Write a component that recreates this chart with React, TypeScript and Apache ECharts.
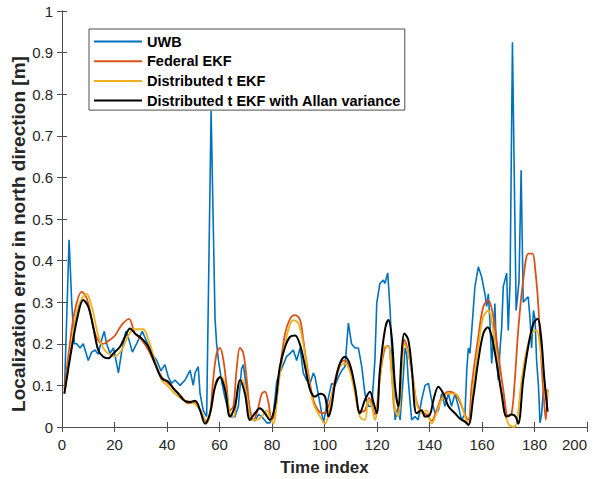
import React, { useEffect, useRef } from "react";
import * as echarts from "echarts";

const seriesNames = ["UWB", "Federal EKF", "Distributed t EKF", "Distributed t EKF with Allan variance"];
const yTitle = "Localization error in north direction [m]";
const xTitle = "Time index";

const uwbX = [1, 2.7, 3.7, 4.7, 5.6, 6.9, 8.1, 10, 11.3, 12.6, 13.8, 15.1, 16.1, 17, 18.3, 19.6, 21.5, 22.7, 24.3, 25.5, 26.8, 28.4, 30.6, 32.3, 34.2, 36.1, 37.7, 39.2, 40.5, 41.8, 43, 45, 46.9, 48.8, 50,
  50.7, 51.9, 52.6, 53.8, 55.1, 56.8, 58.3, 58.9, 59.6, 60.8, 62.1, 64, 65.9, 67.2, 68.4, 69.1, 69.7, 71, 72.2, 73.5, 74.8, 76.1, 78, 79.2, 80.5, 81.8, 83, 84.3, 85.6, 86.9, 88.1, 89.4, 90.7, 91.9, 93.2, 94.5, 95.75,
  96.4, 97.6, 99.6, 100.8, 102.7, 104, 105.3, 106.5, 107.8, 109.1, 110.3, 111.6, 112.9, 114.2, 115.4, 116.7, 118, 119.2, 119.9, 121.1, 122.4, 123, 124.1, 125, 126.2, 126.9, 128.1, 128.8, 130, 130.7, 131.3, 131.9, 133.2, 134.5, 135.7, 137, 138.3, 139.6, 140.8, 142.1, 143.4, 144.6, 145.9, 147.2, 148.4, 149.7,
  151, 152.2, 153.5, 154.2, 154.8, 155.4, 156.1, 157.3, 158.6, 159.9, 161.1, 161.8, 162.4, 163, 163.7, 164.3, 164.9, 165.6, 166.2, 166.9, 167.5, 168.1, 169.4, 170, 170.7, 171.6, 173, 174.1, 174.9, 175.7, 176.4, 177.6, 178.3, 178.9, 179.6, 180.2, 180.8, 181.5, 182.1, 182.7, 183.4, 184, 185];
const uwbY = [0.1, 0.45, 0.3, 0.2, 0.2, 0.19, 0.2, 0.16, 0.18, 0.185, 0.175, 0.21, 0.23, 0.2, 0.177, 0.19, 0.13, 0.18, 0.23, 0.21, 0.18, 0.2, 0.23, 0.205, 0.177, 0.16, 0.135, 0.15, 0.12, 0.105, 0.113, 0.1, 0.113, 0.136, 0.1,
  0.13, 0.145, 0.08, 0.04, 0.025, 0.76, 0.26, 0.2, 0.16, 0.11, 0.07, 0.025, 0.025, 0.05, 0.14, 0.15, 0.12, 0.065, 0.02, 0.015, 0.03, 0.025, 0.01, 0.01, 0.03, 0.11, 0.13, 0.15, 0.17, 0.177, 0.185, 0.16, 0.19, 0.13, 0.112, 0.105, 0.13,
  0.12, 0.08, 0.01, 0.05, 0.105, 0.1, 0.12, 0.135, 0.145, 0.25, 0.2, 0.19, 0.19, 0.145, 0.08, 0.05, 0.05, 0.16, 0.297, 0.345, 0.353, 0.345, 0.37, 0.28, 0.1, 0.017, 0.05, 0.017, 0.12, 0.19, 0.177, 0.113, 0.017, 0.025, 0.017, 0.065, 0.1, 0.105, 0.065, 0.033, 0.04, 0.08, 0.05, 0.08, 0.05, 0.08,
  0.05, 0.017, 0.03, 0.137, 0.19, 0.177, 0.233, 0.337, 0.385, 0.36, 0.32, 0.29, 0.32, 0.257, 0.153, 0.21, 0.297, 0.16, 0.113, 0.19, 0.24, 0.337, 0.37, 0.232, 0.35, 0.925, 0.28, 0.35, 0.617, 0.3, 0.305, 0.313, 0.26, 0.19, 0.28, 0.26, 0.16, 0.1, 0.01, 0.03, 0.09, 0.08, 0.09];

const fedX = [0.9, 3, 4.9, 7.5, 9.4, 11.3, 13.2, 15.7, 18.3, 20.2, 22.7, 25.5, 27.8, 30.3, 32.9, 35.4, 38, 40.5, 43, 45.6, 48.1, 50.7, 53.2, 55.1, 56.4, 57.6, 58.9, 60.2, 61.5, 62.7, 64, 65.3, 66.5, 67.8, 69.1, 70.4, 71.6, 72.9, 74.2, 76.1, 77.3, 78.6, 79.9, 81.1, 83, 85, 86.9, 88.8, 90.7, 91.9, 93.8, 95.75, 97.6, 99.6,
  102.1, 104, 105.9, 107.8, 109.7, 111.6, 113.5, 115.4, 117, 119.2, 121.1, 123, 124.3, 125.6, 126.9, 128.1, 129.4, 130.4, 131.9, 133.8, 135.1, 137, 138.9, 140.8, 142.7, 144.6, 147.2, 149.7, 151.6, 153.5, 154.8, 156.1, 158.6, 160.5, 162.4, 164.3, 166.2, 168.1, 170, 171.3, 172.5, 173.8, 175.7, 177.7, 179.2, 180.3, 181.4, 182.6, 183.7, 184.3, 185];
const fedY = [0.09, 0.2, 0.28, 0.325, 0.31, 0.26, 0.215, 0.2, 0.21, 0.22, 0.245, 0.26, 0.225, 0.21, 0.185, 0.153, 0.12, 0.105, 0.09, 0.073, 0.057, 0.06, 0.033, 0.013, 0.033, 0.113, 0.177, 0.19, 0.16, 0.1, 0.04, 0.05, 0.137, 0.19, 0.177, 0.113, 0.04, 0.017, 0.033, 0.08, 0.085, 0.06, 0.017, 0.033, 0.137, 0.225, 0.26, 0.269, 0.257, 0.21, 0.13, 0.065, 0.04, 0.033,
  0.06, 0.113, 0.153, 0.16, 0.14, 0.09, 0.037, 0.04, 0.07, 0.03, 0.12, 0.19, 0.195, 0.13, 0.04, 0.04, 0.15, 0.21, 0.18, 0.11, 0.06, 0.035, 0.03, 0.015, 0.04, 0.07, 0.085, 0.08, 0.06, 0.03, 0.017, 0.1, 0.217, 0.289, 0.305, 0.265, 0.177, 0.09, 0.025, 0.033, 0.113, 0.233, 0.353, 0.417, 0.417, 0.377, 0.297, 0.16, 0.057, 0.017, 0.09];

const dtX = [0.9, 3.7, 6.2, 9.4, 11.3, 13.8, 15.7, 17.6, 20.2, 22.7, 25.3, 27.2, 29.1, 31, 32.9, 35.4, 38, 40.5, 43, 46.2, 50, 53.2, 55.1, 57, 58.9, 60.8, 62.1, 64, 65.3, 67.2, 68.7, 70.4, 72.2, 74.2, 76.1, 78, 79.2, 80.5, 82.4, 84.3, 86.2, 88.1, 90, 91.9, 93.8, 95.75, 97.6,
  100.2, 102.1, 104, 105.9, 107.8, 109.7, 111.6, 113.5, 115.4, 116.7, 118, 119.2, 121.1, 123, 124.3, 125.6, 126.9, 128.1, 129.4, 130.4, 131.9, 133.8, 135.1, 137, 138.9, 140.8, 142.7, 144.6, 147.2, 149.7, 151.6, 153.5, 154.8, 156.7, 158.6, 160.5, 162.4, 164.3, 166.2, 168.1, 170, 171.9, 173.2, 175.1, 177, 178.9, 180.8, 182.1, 183.4, 184.4, 185];
const dtY = [0.08, 0.2, 0.29, 0.32, 0.29, 0.22, 0.19, 0.177, 0.17, 0.185, 0.22, 0.235, 0.235, 0.235, 0.21, 0.16, 0.113, 0.097, 0.08, 0.065, 0.058, 0.035, 0.008, 0.05, 0.113, 0.12, 0.1, 0.033, 0.025, 0.1, 0.113, 0.073, 0.017, 0.017, 0.025, 0.04, 0.025, 0.008, 0.1, 0.177, 0.233, 0.257, 0.25, 0.2, 0.12, 0.057, 0.033,
  0.008, 0.05, 0.105, 0.145, 0.153, 0.133, 0.08, 0.025, 0.017, 0.065, 0.05, 0.017, 0.113, 0.193, 0.193, 0.13, 0.04, 0.025, 0.137, 0.2, 0.177, 0.113, 0.057, 0.033, 0.04, 0.008, 0.033, 0.065, 0.08, 0.08, 0.065, 0.025, 0.008, 0.1, 0.193, 0.265, 0.28, 0.233, 0.137, 0.05, 0.008, 0.0, 0.01, 0.113, 0.185, 0.225, 0.233, 0.193, 0.13, 0.065, 0.09];

const avX = [0.9, 3.7, 6.2, 8.1, 10, 11.9, 13.8, 15.7, 17.6, 19.6, 22.1, 24, 25.9, 27.8, 30.3, 32.9, 35.4, 38, 40.5, 42.4, 44.3, 46.9, 48.8, 50.7, 52.6, 54.5, 56.4, 58.3, 60.2, 62.1, 64, 65.9, 67.8, 69.7, 71.6, 73.5, 75.4, 77.3, 79.2, 81.1, 83, 85, 86.9, 88.8, 90.7, 92.6, 94.5, 96.4, 98.3,
  100.2, 101.5, 102.7, 104, 105.9, 107.8, 109.7, 111.6, 113.5, 115.4, 117.3, 118.6, 119.9, 121.1, 123, 124.3, 125.6, 126.9, 128.1, 129.4, 130.4, 131.9, 133.2, 135.1, 137, 138.3, 140.2, 141.5, 143.4, 145.3, 147.2, 149.7, 151.6, 153.5, 154.8, 156.7, 158.6, 160.5, 162.2, 163.7, 165.6, 167.5, 169.4, 171.3, 172.8, 173.8, 175.7, 177.6, 179.6, 181.2, 182.5, 183.7, 185];
const avY = [0.08, 0.19, 0.273, 0.305, 0.289, 0.24, 0.185, 0.169, 0.165, 0.177, 0.193, 0.217, 0.237, 0.225, 0.213, 0.193, 0.153, 0.117, 0.109, 0.093, 0.08, 0.062, 0.06, 0.063, 0.04, 0.008, 0.033, 0.097, 0.12, 0.09, 0.025, 0.05, 0.113, 0.08, 0.017, 0.033, 0.045, 0.033, 0.017, 0.05, 0.145, 0.193, 0.217, 0.22, 0.197, 0.145, 0.09, 0.073, 0.08,
  0.073, 0.025, 0.05, 0.105, 0.153, 0.169, 0.15, 0.097, 0.033, 0.065, 0.085, 0.06, 0.033, 0.137, 0.233, 0.257, 0.217, 0.097, 0.05, 0.177, 0.225, 0.21, 0.145, 0.033, 0.04, 0.025, 0.03, 0.065, 0.097, 0.08, 0.05, 0.033, 0.02, 0.013, 0.005, 0.073, 0.16, 0.225, 0.24, 0.217, 0.153, 0.08, 0.025, 0.03, 0.025, 0.008, 0.113, 0.193, 0.249, 0.26, 0.217, 0.12, 0.037];

const colors = ["#0072BD", "#D95319", "#EDB120", "#000000"];

function zip(xs: number[], ys: number[]) {
  return xs.map((x, i) => [x, ys[i]]);
}

export default function App() {
  const ref = useRef<HTMLDivElement>(null);
  useEffect(() => {
    if (!ref.current) return;
    const chart = echarts.init(ref.current, undefined, { renderer: "svg" });
    const axisColor = "#4d4d4d";
    const font = "Liberation Sans, Arial, sans-serif";
    const datasets = [zip(uwbX, uwbY), zip(fedX, fedY), zip(dtX, dtY), zip(avX, avY)];
    const widths = [1.6, 1.8, 1.8, 2];
    chart.setOption({
      animation: false,
      backgroundColor: "#ffffff",
      grid: { left: 62, right: 11, top: 11, bottom: 52, containLabel: false, outerBoundsMode: "none" },
      graphic: [
        {
          type: "text",
          x: 18,
          y: 234,
          rotation: Math.PI / 2,
          style: {
            text: yTitle,
            fontFamily: font,
            fontWeight: "bold",
            fontSize: 19,
            fill: "#262626",
            align: "center",
            verticalAlign: "middle",
          },
        },
      ],
      legend: {
        data: seriesNames.map((n) => ({ name: n, icon: "rect" })),
        orient: "vertical",
        left: 89,
        top: 29,
        itemWidth: 48,
        itemHeight: 2,
        itemGap: 4.7,
        padding: [5, 4, 2, 5],
        backgroundColor: "#ffffff",
        borderColor: "#4d4d4d",
        borderWidth: 1,
        textStyle: { fontFamily: font, fontWeight: "bold", fontSize: 14.5, lineHeight: 15, height: 15, color: "#000" },
      },
      xAxis: [
        {
          type: "value",
          min: 0,
          max: 200,
          interval: 20,
          name: xTitle,
          nameLocation: "middle",
          nameGap: 32,
          nameTextStyle: { fontFamily: font, fontWeight: "bold", fontSize: 17, color: "#262626" },
          axisLine: { show: true, lineStyle: { color: axisColor, width: 1 } },
          axisTick: { show: true, inside: true, length: 5, lineStyle: { color: axisColor } },
          axisLabel: { fontFamily: font, fontSize: 15, color: "#262626", margin: 10, alignMaxLabel: "right" },
          splitLine: { show: false },
        },
        {
          type: "value",
          position: "top",
          min: 0,
          max: 200,
          interval: 20,
          axisLine: { show: true, lineStyle: { color: axisColor, width: 1 } },
          axisTick: { show: true, inside: true, length: 5, lineStyle: { color: axisColor } },
          axisLabel: { show: false },
          splitLine: { show: false },
        },
      ],
      yAxis: [
        {
          type: "value",
          min: 0,
          max: 1,
          interval: 0.1,
          axisLine: { show: true, lineStyle: { color: axisColor, width: 1 } },
          axisTick: { show: true, inside: true, length: 5, lineStyle: { color: axisColor } },
          axisLabel: { fontFamily: font, fontSize: 15, color: "#262626", margin: 9 },
          splitLine: { show: false },
        },
        {
          type: "value",
          position: "right",
          min: 0,
          max: 1,
          interval: 0.1,
          axisLine: { show: true, lineStyle: { color: axisColor, width: 1 } },
          axisTick: { show: true, inside: true, length: 5, lineStyle: { color: axisColor } },
          axisLabel: { show: false },
          splitLine: { show: false },
        },
      ],
      series: seriesNames.map((name, i) => ({
        name,
        type: "line",
        data: datasets[i],
        xAxisIndex: 0,
        yAxisIndex: 0,
        symbol: "none",
        showSymbol: false,
        smooth: i === 0 ? false : 0.35,
        lineStyle: { color: colors[i], width: widths[i] },
        itemStyle: { color: colors[i] },
        z: 2 + i,
      })),
    });
    return () => chart.dispose();
  }, []);
  return <div ref={ref} style={{ position: "absolute", left: 0, top: 0, width: 598, height: 479 }} />;
}
